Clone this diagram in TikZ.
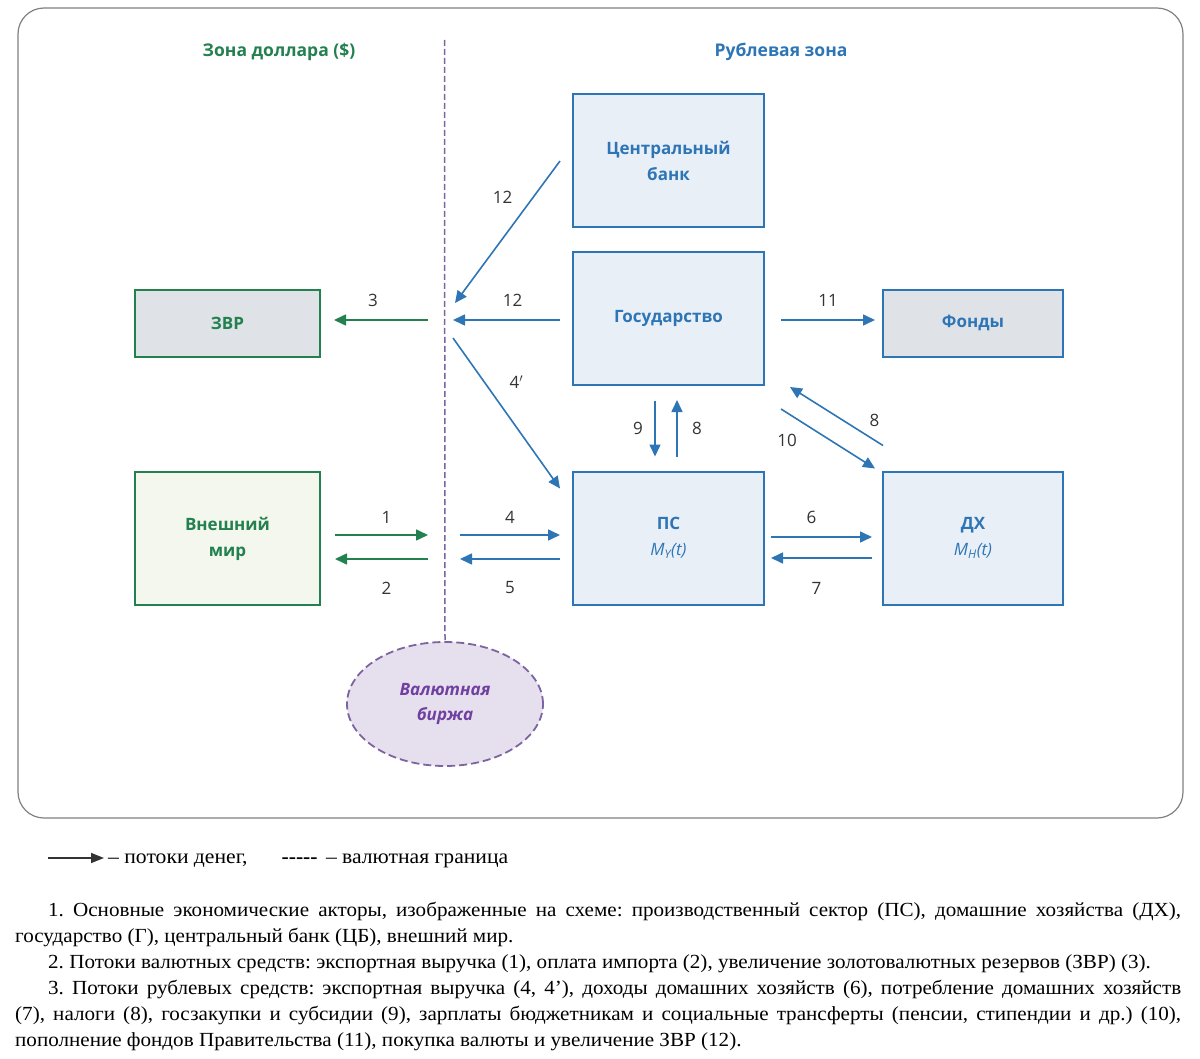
\documentclass[tikz,border=0pt]{standalone}
\usepackage{fontspec}
\setmainfont{Liberation Serif}[FakeStretch=1.055]
\newfontfamily\dgmfont{Open Sans}
\usetikzlibrary{arrows.meta,shapes.geometric}
\definecolor{rubblue}{HTML}{2E75B6}
\definecolor{usdgreen}{HTML}{23804F}
\definecolor{fxline}{HTML}{7D63A0}
\definecolor{fxtext}{HTML}{7040A0}
\definecolor{fxfill}{HTML}{E6E0EE}
\definecolor{boxblue}{HTML}{E9EFF7}
\definecolor{boxgray}{HTML}{DFE3E8}
\definecolor{boxgreen}{HTML}{F4F7EE}
\definecolor{framegray}{HTML}{808080}
\definecolor{numgray}{HTML}{333333}
\frenchspacing
\tikzset{
	actor/.style={line width=2pt, minimum width=191pt, minimum height=133pt, align=center, inner sep=0pt, font=\dgmfont\bfseries\fontsize{17}{26}\selectfont},
	rubbox/.style={actor, draw=rubblue, fill=boxblue, text=rubblue},
	usdbox/.style={actor, draw=usdgreen, fill=boxgreen, text=usdgreen, minimum width=185pt},
	fxbox/.style={ellipse, draw=fxline, fill=fxfill, line width=1.8pt, dash pattern=on 8pt off 4pt, minimum width=196pt, minimum height=124pt, align=center, text=fxtext, font=\dgmfont\bfseries\itshape\fontsize{17}{25}\selectfont},
	zone/.style={font=\dgmfont\bfseries\fontsize{17.5}{17.5}\selectfont},
	border/.style={fxline, line width=1.5pt, dash pattern=on 6pt off 3pt},
	flow/.style={line width=1.6pt, -{Triangle[length=12pt,width=11pt]}},
	num/.style={inner sep=0pt, text=numgray, font=\dgmfont\fontsize{17}{17}\selectfont},
	notes/.style={inner sep=0pt, text width=1166pt, align=justify, font=\fontsize{20}{26}\selectfont},
}

\begin{document}
\begin{tikzpicture}[x=1pt, y=-1pt]
	%%%%% START %%%%%
	\useasboundingbox (0,0) rectangle (1200,1059);
	\draw[framegray, line width=1.2pt, rounded corners=26pt] (18,8) rectangle (1183,818);

	\node[zone, text=usdgreen] (usd) at (279,52) {Зона доллара (\$)};
	\node[zone, text=rubblue] (rub) at (781,52) {Рублевая зона};

	%%%%% actors %%%%%
	\node[rubbox] (cb) at (668.5,161) {Центральный\\банк};
	\node[rubbox] (gos) at (668.5,318.5) {Государство};
	\node[rubbox] (ps) at (668.5,538) {ПС\\{\mdseries\itshape M\textsubscript{Y}(t)}};
	\node[rubbox, minimum width=180pt] (dh) at (973,538) {ДХ\\{\mdseries\itshape M\textsubscript{H}(t)}};
	\node[rubbox, fill=boxgray, minimum width=180pt, minimum height=67pt] (fond) at (973,323.5) {Фонды};
	\node[usdbox, fill=boxgray, minimum height=67pt] (zvr) at (227.5,323.5) {ЗВР};
	\node[usdbox] (world) at (227.5,538.5) {Внешний\\мир};
	\node[fxbox] (fx) at (445,704) {Валютная\\биржа};

	%%%%% currency border %%%%%
	\coordinate (top) at (444.5,40);
	\draw[border] (top) -- (fx.north);

	\coordinate (b3) at (428,320);
	\coordinate (b12a) at (455,303);
	\coordinate (b12b) at (453,320);
	\coordinate (b4p) at (453,338);
	\coordinate (b1) at (428,535);
	\coordinate (b2) at (428,559);
	\coordinate (b4) at (460,535);
	\coordinate (b5) at (460,559);

	%%%%% flows %%%%%
	\draw[flow, usdgreen] (b3) -- ([xshift=13pt,yshift=3.5pt]zvr.east) node[num, midway, xshift=-8pt, yshift=20pt] {3};
	\draw[flow, usdgreen] ([xshift=14pt,yshift=3.5pt]world.east) -- (b1) node[num, midway, xshift=5pt, yshift=18pt] {1};
	\draw[flow, usdgreen] (b2) -- ([xshift=14pt,yshift=-20.5pt]world.east) node[num, midway, xshift=5pt, yshift=-29pt] {2};

	\draw[flow, rubblue] ([xshift=-12pt]cb.west) -- (b12a) node[num, midway, xshift=-5pt, yshift=35pt] {12};
	\draw[flow, rubblue] ([xshift=-12pt,yshift=-1.5pt]gos.west) -- (b12b) node[num, midway, xshift=6pt, yshift=20pt] {12};
	\draw[flow, rubblue] (b4p) -- ([xshift=-12pt,yshift=-18pt]ps.north west) node[num, midway, xshift=10pt, yshift=31pt] {4$'$};
	\draw[flow, rubblue] (b4) -- ([xshift=-12pt,yshift=3pt]ps.west) node[num, midway, yshift=18pt] {4};
	\draw[flow, rubblue] ([xshift=-12pt,yshift=-21pt]ps.west) -- (b5) node[num, midway, yshift=-29pt] {5};
	\draw[flow, rubblue] ([xshift=16pt,yshift=-1.5pt]gos.east) -- ([xshift=-7pt,yshift=3.5pt]fond.west) node[num, midway, yshift=20pt] {11};
	\draw[flow, rubblue] ([xshift=-13.5pt,yshift=-15pt]gos.south) -- ([xshift=-13.5pt,yshift=14pt]ps.north) node[num, midway, xshift=-17pt] {9};
	\draw[flow, rubblue] ([xshift=8.5pt,yshift=14pt]ps.north) -- ([xshift=8.5pt,yshift=-14pt]gos.south) node[num, midway, xshift=20pt] {8};
	\draw[flow, rubblue] ([xshift=16pt,yshift=-23pt]gos.south east) -- ([xshift=-7pt,yshift=2pt]dh.north west) node[num, midway, xshift=-41pt, yshift=-2pt] {10};
	\draw[flow, rubblue] ([xshift=1pt,yshift=25pt]dh.north west) -- ([xshift=25pt,yshift=-1pt]gos.south east) node[num, midway, xshift=38pt, yshift=-4pt] {8};
	\draw[flow, rubblue] ([xshift=6pt,yshift=1pt]ps.east) -- ([xshift=-10pt,yshift=1pt]dh.west) node[num, midway, xshift=-10pt, yshift=20pt] {6};
	\draw[flow, rubblue] ([xshift=-10pt,yshift=-20pt]dh.west) -- ([xshift=6pt,yshift=-20pt]ps.east) node[num, midway, xshift=-5pt, yshift=-30pt] {7};

	%%%%% legend and notes %%%%%
	\coordinate (leg) at (48,858);
	\node[inner sep=0pt, anchor=west, font=\fontsize{20.5}{26}\selectfont] (legtxt) at (108,861) {– потоки денег,\hspace{34pt}\textbf{-{}-{}-{}-{}-}\hspace{3pt} – валютная граница};
	\draw[numgray, line width=1.5pt, -{Triangle[length=13pt,width=10pt]}, shorten >=4pt] (leg) -- (leg -| legtxt.west);

	\node[notes, anchor=north west] (notes) at (15,890) {\parindent=33pt\par\indent
		1. Основные экономические акторы, изображенные на схеме: производственный сектор (ПС), домашние хозяйства (ДХ),\linebreak
		государство (Г), центральный банк (ЦБ), внешний мир.\par
		2. Потоки валютных средств: экспортная выручка (1), оплата импорта (2), увеличение золотовалютных резервов (ЗВР) (3).\par
		3. Потоки рублевых средств: экспортная выручка (4, 4'), доходы домашних хозяйств (6), потребление домашних хозяйств\linebreak
		(7), налоги (8), госзакупки и субсидии (9), зарплаты бюджетникам и социальные трансферты (пенсии, стипендии и др.) (10),\linebreak
		пополнение фондов Правительства (11), покупка валюты и увеличение ЗВР (12).\par};
	%%%%% END %%%%%
\end{tikzpicture}
\end{document}
